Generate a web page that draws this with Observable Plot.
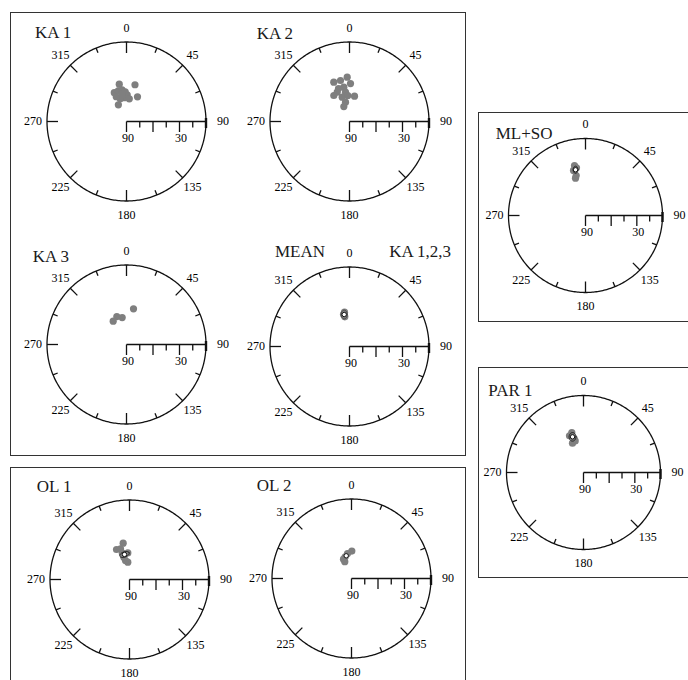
<!DOCTYPE html>
<html><head><meta charset="utf-8">
<script src="https://cdn.jsdelivr.net/npm/d3@7"></script>
<script src="https://cdn.jsdelivr.net/npm/@observablehq/plot@0.6"></script>
<style>
body{margin:0;background:#fff;}
#page{position:relative;width:688px;height:680px;overflow:hidden;font-family:"Liberation Serif","Times New Roman",serif;background:#fff;}
.box{position:absolute;border:1.3px solid #333;box-sizing:border-box;}
.title{position:absolute;font-size:17px;line-height:17px;color:#1a1a1a;white-space:nowrap;font-family:"Liberation Serif",serif;}
.panel{position:absolute;}
.panel text{font-family:"Liberation Serif",serif;}
</style></head><body><div id="page"></div>
<script>
// ---- axis values ----
const dirTicks = [0, 22.5, 45, 67.5, 90, 112.5, 135, 157.5, 180, 202.5, 225, 247.5, 270, 292.5, 315, 337.5];
const dirLabels = [0, 45, 90, 135, 180, 225, 270, 315];
const incTicks = [90, 75, 60, 45, 30, 15, 0];
const incLabels = [90, 30];

// ---- data (declination, inclination in degrees) ----
const ka1Dec = [349, 13, 24, 334, 337, 345, 352, 357.5, 1.5, 354.5, 344.5, 337.5, 7, 351];
const ka1Inc = [47, 47.3, 59.4, 69, 54.6, 54, 53.8, 56.4, 59.8, 63, 63.3, 59.7, 64.1, 58.2];

const ka2Dec = [357, 347.6, 338.2, 350.6, 337.2, 352.2, 328.9, 343.3, 356.3, 11.2, 348.3, 339.2, 1.5, 341.6];
const ka2Inc = [39.8, 42.5, 42.1, 50.6, 54, 56.5, 55.6, 61.3, 60.5, 60.8, 67.7, 71.9, 47, 50.6];

const ka3Dec = [11.1, 350.9, 340.9, 330.3];
const ka3Inc = [48.8, 59.1, 56.5, 59.6];

const kaMeansDec = [351.7, 349.4, 351];
const kaMeansInc = [50.7, 53.1, 56];
const kaAllMeanDec = [350.6];
const kaAllMeanInc = [53.3];

const ol1Dec = [350.1, 336.6, 344.7, 356.4, 345.7, 354.4, 348.1, 343.7];
const ol1Inc = [48.3, 53, 58.7, 59.8, 63.9, 70.3, 68, 53.8];
const ol1MeanDec = [348.7];
const ol1MeanInc = [61.1];

const ol2Dec = [0.7, 350.9, 343.8, 337.5, 338.2];
const ol2Inc = [59, 61.4, 64.4, 66.3, 69.6];
const ol2MeanDec = [346.9];
const ol2MeanInc = [63.6];

const mlsoDec = [347.6, 349.3, 345.1, 346.9, 345];
const mlsoInc = [30.2, 33.3, 35.5, 42, 44.8];
const mlsoMeanDec = [347.7];
const mlsoMeanInc = [35.3];

const par1Dec = [343.7, 339.1, 344.7, 339.4, 345.3];
const par1Inc = [41.3, 44.1, 48.8, 53.4, 51.8];
const par1MeanDec = [342.9];
const par1MeanInc = [46.4];

// confidence ellipses around the means: [semi-axis 1 (deg), semi-axis 2 (deg), tilt (deg)]
const meanEllipseKA = [3.4, 5.0, 0];
const ol1Ellipse = [5.6, 3.0, 20];
const mlsoEllipse = [2.8, 4.2, 0];
const par1Ellipse = [4.0, 5.0, 0];

// ---- helpers ----
const rad = Math.PI / 180;
function toXY(dec, inc) {
  const r = (90 - inc) / 90;
  return {x: r * Math.sin(dec * rad), y: r * Math.cos(dec * rad)};
}
function pts(decs, incs) { return decs.map((d, i) => toXY(d, incs[i])); }
function ellipse(dec, inc, e) {
  const c = toXY(dec, inc), t = e[2] * rad;
  return d3.range(0, 361, 10).map(a => {
    const u = (e[0] / 90) * Math.cos(a * rad), v = (e[1] / 90) * Math.sin(a * rad);
    return {x: c.x + u * Math.cos(t) - v * Math.sin(t), y: c.y + u * Math.sin(t) + v * Math.cos(t)};
  });
}

const W = 240, H = 220, CX = 120, CY = 110;
const page = document.getElementById("page");
const FONT = "Liberation Serif";

function panel({cx, cy, R, dots = [], means = [], ellipses = [], ellipseStroke = "#222"}) {
  const ring = d3.range(0, 361, 1).map(a => ({x: Math.sin(a * rad), y: Math.cos(a * rad)}));
  const ticks = dirTicks.filter(a => a !== 90).map(a => {
    const len = (a % 90 === 0 ? 11 : a % 45 === 0 ? 10 : 5) / R;
    return {x1: Math.sin(a * rad), y1: Math.cos(a * rad), x2: (1 - len) * Math.sin(a * rad), y2: (1 - len) * Math.cos(a * rad)};
  });
  const labels = dirLabels.map(a => {
    const rr = 1 + 14 / R + (a === 90 ? 3 / R : 0);
    return {x: rr * Math.sin(a * rad), y: rr * Math.cos(a * rad), t: String(a)};
  });
  const scaleTicks = incTicks.filter(v => v !== 0).map(v => {
    const r = (90 - v) / 90, len = (v % 30 === 0 ? 10.5 : 6) / R;
    return {x1: r, y1: 0, x2: r, y2: -len};
  });
  const endBar = [{x1: 1, y1: 3.5 / R, x2: 1, y2: -6.5 / R}];
  const scaleLabels = incLabels.map(v => ({x: (90 - v) / 90 + 1.5 / R, y: 0, t: String(v)}));
  const marks = [
    Plot.line(ring, {x: "x", y: "y", stroke: "#111", strokeWidth: 1.3}),
    Plot.link(ticks, {x1: "x1", y1: "y1", x2: "x2", y2: "y2", stroke: "#111", strokeWidth: 1.3}),
    Plot.text(labels, {x: "x", y: "y", text: "t", fontSize: 12, fill: "black", fontFamily: FONT}),
    Plot.link([{x1: 0, y1: 0, x2: 1, y2: 0}], {x1: "x1", y1: "y1", x2: "x2", y2: "y2", stroke: "#111", strokeWidth: 1.3}),
    Plot.link(scaleTicks, {x1: "x1", y1: "y1", x2: "x2", y2: "y2", stroke: "#111", strokeWidth: 1.3}),
    Plot.link(endBar, {x1: "x1", y1: "y1", x2: "x2", y2: "y2", stroke: "#111", strokeWidth: 2.4}),
    Plot.text(scaleLabels, {x: "x", y: "y", text: "t", dy: 17, fontSize: 12, fill: "black", fontFamily: FONT}),
    Plot.dot(dots, {x: "x", y: "y", r: 3.6, fill: "#7f7f7f", stroke: "none"})
  ];
  ellipses.forEach(e => marks.push(Plot.line(e, {x: "x", y: "y", stroke: ellipseStroke, strokeWidth: 1, curve: "linear"})));
  if (means.length) marks.push(Plot.dot(means, {x: "x", y: "y", r: 2.2, fill: "white", stroke: "#111", strokeWidth: 1}));
  const svg = Plot.plot({
    width: W, height: H, margin: 0,
    x: {domain: [-1, 1], range: [CX - R, CX + R], axis: null},
    y: {domain: [-1, 1], range: [CY + R, CY - R], axis: null},
    style: {background: "transparent", overflow: "visible", fontFamily: FONT, fontSize: "12px"},
    marks
  });
  svg.classList.add("panel");
  svg.style.left = (cx - CX) + "px";
  svg.style.top = (cy - CY) + "px";
  page.appendChild(svg);
}

function box(l, t, w, h) {
  const d = document.createElement("div");
  d.className = "box";
  Object.assign(d.style, {left: l + "px", top: t + "px", width: w + "px", height: h + "px"});
  page.appendChild(d);
}
function title(text, l, baseline, right) {
  const s = document.createElement("div");
  s.className = "title";
  s.textContent = text;
  s.style.top = (baseline - 14.2) + "px";
  if (right) s.style.right = (688 - l) + "px"; else s.style.left = l + "px";
  page.appendChild(s);
}

box(10, 12, 456, 444);
box(10, 467, 456, 240);
box(478, 112, 230, 210);
box(478, 367, 230, 211);

panel({cx: 126.3, cy: 121, R: 79.5, dots: pts(ka1Dec, ka1Inc)});
panel({cx: 349, cy: 121, R: 79.5, dots: pts(ka2Dec, ka2Inc)});
panel({cx: 126.3, cy: 343.5, R: 79.5, dots: pts(ka3Dec, ka3Inc)});
panel({cx: 349.3, cy: 345.7, R: 79.5, dots: pts(kaMeansDec, kaMeansInc),
  ellipses: [ellipse(kaAllMeanDec[0], kaAllMeanInc[0], meanEllipseKA)], ellipseStroke: "#444",
  means: pts(kaAllMeanDec, kaAllMeanInc)});
panel({cx: 128.8, cy: 578.7, R: 79.5, dots: pts(ol1Dec, ol1Inc),
  ellipses: [ellipse(ol1MeanDec[0], ol1MeanInc[0], ol1Ellipse)],
  means: pts(ol1MeanDec, ol1MeanInc)});
panel({cx: 351.3, cy: 578.3, R: 79.5, dots: pts(ol2Dec, ol2Inc), means: pts(ol2MeanDec, ol2MeanInc)});
panel({cx: 584.5, cy: 215, R: 77, dots: pts(mlsoDec, mlsoInc),
  ellipses: [ellipse(mlsoMeanDec[0], mlsoMeanInc[0], mlsoEllipse)],
  means: pts(mlsoMeanDec, mlsoMeanInc)});
panel({cx: 583.3, cy: 471.7, R: 77, dots: pts(par1Dec, par1Inc),
  ellipses: [ellipse(par1MeanDec[0], par1MeanInc[0], par1Ellipse)],
  means: pts(par1MeanDec, par1MeanInc)});

title("KA 1", 35, 38.3);
title("KA 2", 256.7, 39.3);
title("KA 3", 32.7, 262.3);
title("MEAN", 275, 257.3);
title("KA 1,2,3", 451, 257.3, true);
title("OL 1", 36.7, 491.7);
title("OL 2", 256.7, 491.3);
title("ML+SO", 495.7, 139.3);
title("PAR 1", 488.3, 395.7);
</script></body></html>
